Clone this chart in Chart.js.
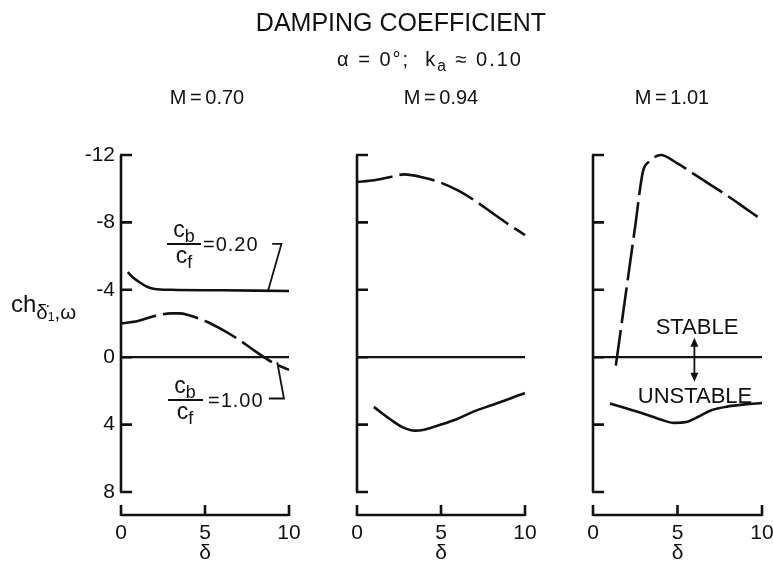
<!DOCTYPE html>
<html>
<head>
<meta charset="utf-8">
<script src="https://cdn.jsdelivr.net/npm/chart.js@4.4.1/dist/chart.umd.min.js"></script>
<style>
    body { margin: 0; background: #fff; }
    #wrap { position: relative; width: 773px; height: 565px; overflow: hidden;
            font-family: "Liberation Sans", Arial, sans-serif; color: #111; }
    canvas { position: absolute; left: 0; top: 0; }
    .txt { position: absolute; white-space: nowrap; line-height: 1; }
    .ctr { transform: translateX(-50%); }
    .bar { position: absolute; height: 2px; background: #111; }
    sub { font-size: 0.78em; vertical-align: -0.3em; line-height: 0; }
    .ylab sub { font-size: 0.85em; vertical-align: -0.35em; }
    .ylab sub sub { font-size: 0.6em; vertical-align: -0.2em; }
</style>
</head>
<body>
<div id="wrap">
    <canvas id="p1" width="773" height="565"></canvas>
    <canvas id="p2" width="773" height="565"></canvas>
    <canvas id="p3" width="773" height="565"></canvas>

    <div class="txt ctr" style="left:401px;top:10px;font-size:25px">DAMPING COEFFICIENT</div>
    <div class="txt ctr" style="left:430px;top:49px;font-size:20px;letter-spacing:2px">α = 0°;&nbsp; k<sub>a</sub> ≈ 0.10</div>

    <div class="txt ctr t-panel" style="left:207px"></div>
    <div class="txt ctr t-panel" style="left:441px"></div>
    <div class="txt ctr t-panel" style="left:672px"></div>

    <div class="txt ylab" style="left:11px;top:292px;font-size:24px">ch<sub>δ̇<sub>1</sub>,ω</sub></div>

    <!-- c_b / c_f = 0.20 -->
    <div class="txt ctr" style="left:184px;top:218px;font-size:23px">c<sub>b</sub></div>
    <div class="bar" style="left:167px;top:243px;width:34px"></div>
    <div class="txt ctr" style="left:184px;top:244px;font-size:23px">c<sub>f</sub></div>
    <div class="txt" style="left:203px;top:234px;font-size:20px;letter-spacing:1px">=0.20</div>

    <!-- c_b / c_f = 1.00 -->
    <div class="txt ctr" style="left:185px;top:374px;font-size:23px">c<sub>b</sub></div>
    <div class="bar" style="left:168px;top:399px;width:35px"></div>
    <div class="txt ctr" style="left:185px;top:400px;font-size:23px">c<sub>f</sub></div>
    <div class="txt" style="left:208px;top:390px;font-size:20px;letter-spacing:1px">=1.00</div>

    <div class="txt ctr" style="left:697px;top:316px;font-size:22px">STABLE</div>
    <div class="txt ctr" style="left:695px;top:385px;font-size:22px">UNSTABLE</div>
</div>

<script>
// axes
const xTicks = [0, 5, 10];
const yTicks = [-12, -8, -4, 0, 4, 8];
const panelTitles = ['M = 0.70', 'M = 0.94', 'M = 1.01'];

// zero reference line
const zeroX = [0, 10];
const zeroY = [0, 0];

// M = 0.70
const m070Cb020X = [0.4, 0.7, 1.1, 1.5, 2.0, 3, 6, 10];
const m070Cb020Y = [-5.05, -4.75, -4.45, -4.2, -4.05, -4.0, -3.97, -3.93];
const m070Cb100X = [0, 1, 2, 3, 3.5, 4, 5, 6, 7, 8, 9, 10];
const m070Cb100Y = [-2.0, -2.15, -2.45, -2.6, -2.6, -2.5, -2.15, -1.65, -1.05, -0.35, 0.3, 0.75];

// M = 0.94
const m094Cb100X = [0, 1, 2, 2.8, 4, 5, 6, 7, 8, 9, 10];
const m094Cb100Y = [-10.4, -10.5, -10.7, -10.85, -10.65, -10.35, -9.9, -9.3, -8.6, -7.9, -7.25];
const m094Cb020X = [1, 2, 2.7, 3.45, 4, 5, 6, 7, 8, 9, 10];
const m094Cb020Y = [2.95, 3.7, 4.15, 4.36, 4.3, 4.0, 3.65, 3.2, 2.85, 2.5, 2.12];

// M = 1.01
const m101Cb100X = [1.35, 2, 2.5, 2.95, 3.3, 3.6, 4, 5, 6, 7, 8, 9, 10];
const m101Cb100Y = [0.5, -4.2, -7.8, -11.0, -11.6, -11.85, -12.0, -11.5, -10.85, -10.2, -9.55, -8.85, -8.15];
const m101Cb020X = [1, 2, 3, 4, 4.8, 5.5, 6.2, 7, 8, 9, 10];
const m101Cb020Y = [2.75, 3.05, 3.35, 3.7, 3.9, 3.85, 3.55, 3.15, 2.92, 2.8, 2.72];

const ink = '#111';
Chart.defaults.font.family = '"Liberation Sans", Arial, sans-serif';
Chart.defaults.color = ink;

document.querySelectorAll('.t-panel').forEach((el, i) => {
    el.textContent = panelTitles[i];
    el.style.top = '87px';
    el.style.fontSize = '20px';
    el.style.wordSpacing = '-2px';
});

function pts(xs, ys) {
    return xs.map((x, i) => ({ x: x, y: ys[i] }));
}

function line(xs, ys, dashed, width) {
    return {
        data: pts(xs, ys),
        borderColor: ink,
        borderWidth: width || 2.6,
        borderDash: dashed ? [36, 7] : [],
        pointRadius: 0,
        cubicInterpolationMode: 'monotone',
        fill: false,
        clip: false
    };
}

// leader lines from the c_b/c_f labels, in data units
function leader(xs, ys) {
    var d = line(xs, ys, false, 1.8);
    d.cubicInterpolationMode = 'default';
    d.tension = 0;
    return d;
}

// bracket-style axes: y line with inward ticks, x line below with upward ticks
const axisFrame = {
    id: 'axisFrame',
    afterDatasetsDraw(chart, args, opts) {
        const ctx = chart.ctx;
        const x = chart.scales.x, y = chart.scales.y;
        const x0 = x.getPixelForValue(xTicks[0]);
        const yb = chart.chartArea.bottom;
        ctx.save();
        ctx.strokeStyle = ink;
        ctx.lineWidth = 2.6;
        ctx.beginPath();
        ctx.moveTo(x0, y.getPixelForValue(yTicks[0]));
        ctx.lineTo(x0, y.getPixelForValue(yTicks[yTicks.length - 1]));
        yTicks.forEach(v => {
            const p = y.getPixelForValue(v);
            ctx.moveTo(x0 - 1, p);
            ctx.lineTo(x0 + 11, p);
        });
        ctx.moveTo(x.getPixelForValue(xTicks[0]), yb);
        ctx.lineTo(x.getPixelForValue(xTicks[xTicks.length - 1]), yb);
        xTicks.forEach(v => {
            const p = x.getPixelForValue(v);
            ctx.moveTo(p, yb + 1);
            ctx.lineTo(p, yb - 10);
        });
        ctx.stroke();

        // STABLE / UNSTABLE double arrow
        if (opts.arrow) {
            const ax = x.getPixelForValue(opts.arrow.x);
            const a1 = y.getPixelForValue(opts.arrow.from);
            const a2 = y.getPixelForValue(opts.arrow.to);
            ctx.lineWidth = 1.8;
            ctx.beginPath();
            ctx.moveTo(ax, a1 + 4);
            ctx.lineTo(ax, a2 - 4);
            ctx.stroke();
            ctx.fillStyle = ink;
            ctx.beginPath();
            ctx.moveTo(ax, a1); ctx.lineTo(ax - 4, a1 + 9); ctx.lineTo(ax + 4, a1 + 9);
            ctx.closePath();
            ctx.moveTo(ax, a2); ctx.lineTo(ax - 4, a2 - 9); ctx.lineTo(ax + 4, a2 - 9);
            ctx.closePath();
            ctx.fill();
        }
        ctx.restore();
    }
};

function makePanel(id, left, right, datasets, showYLabels, arrow) {
    return new Chart(document.getElementById(id), {
        type: 'line',
        data: { datasets: datasets },
        plugins: [axisFrame],
        options: {
            responsive: false,
            animation: false,
            events: [],
            layout: { padding: { left: left - 60, right: 773 - right, top: 155, bottom: 0 } },
            plugins: {
                legend: { display: false },
                tooltip: { enabled: false },
                axisFrame: { arrow: arrow }
            },
            scales: {
                x: {
                    type: 'linear',
                    min: 0,
                    max: 10,
                    grid: { display: false, drawTicks: false },
                    border: { display: false },
                    afterBuildTicks: s => { s.ticks = xTicks.map(v => ({ value: v })); },
                    afterFit: s => { s.height = 50; s.paddingLeft = 0; s.paddingRight = 0; },
                    ticks: { padding: 6, font: { size: 21 }, color: ink, maxRotation: 0 },
                    title: { display: true, text: 'δ', font: { size: 21 }, color: ink, padding: { top: 0, bottom: -1 } }
                },
                y: {
                    type: 'linear',
                    reverse: true,
                    min: -12,
                    max: 9.365,
                    grid: { display: false, drawTicks: false },
                    border: { display: false },
                    afterBuildTicks: s => { s.ticks = yTicks.map(v => ({ value: v })); },
                    afterFit: s => { s.width = 60; s.paddingTop = 0; s.paddingBottom = 0; },
                    ticks: { display: showYLabels, padding: 6, font: { size: 21 }, color: ink }
                }
            }
        }
    });
}

makePanel('p1', 121, 289, [
    line(zeroX, zeroY, false, 2.2),
    line(m070Cb020X, m070Cb020Y, false),
    line(m070Cb100X, m070Cb100Y, true),
    leader([9.0, 9.55, 8.75], [-6.72, -6.72, -3.93]),
    leader([8.8, 9.7, 9.3], [2.45, 2.45, 0.3])
], true, null);

makePanel('p2', 357, 525, [
    line(zeroX, zeroY, false, 2.2),
    line(m094Cb100X, m094Cb100Y, true),
    line(m094Cb020X, m094Cb020Y, false)
], false, null);

makePanel('p3', 593, 762, [
    line(zeroX, zeroY, false, 2.2),
    line(m101Cb100X, m101Cb100Y, true),
    line(m101Cb020X, m101Cb020Y, false)
], false, { x: 6.0, from: -1.15, to: 1.45 });
</script>
</body>
</html>
